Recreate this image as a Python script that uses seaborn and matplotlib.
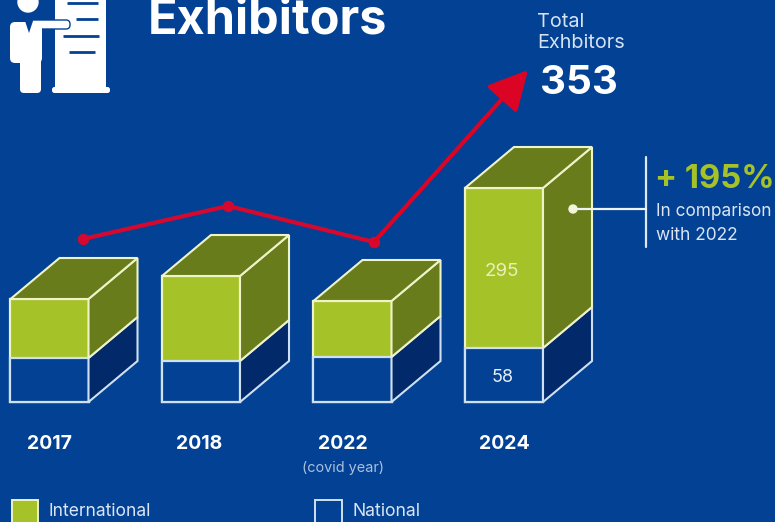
import matplotlib
matplotlib.use('Agg')
import matplotlib.pyplot as plt
import seaborn as sns
import pandas as pd
from matplotlib.patches import Circle, FancyBboxPatch, Polygon, Rectangle

# values
years = ['2017', '2018', '2022', '2024']
national = [44, 41, 45, 54]
international = [59, 85, 56, 160]
total_line = [163, 196, 160]
total_end = 332
shown_international = ['', '', '', '295']
shown_national = ['', '', '', '58']

bg = '#024193'
lime = '#a6c229'
olive = '#697c1c'
navy = '#02296a'
edge_top = '#eef3c8'
edge_low = '#cfe0f2'
red = '#d5092f'

W, H = 775, 522
sns.set_theme(style='white')
plt.rcParams['font.family'] = ['Inter', 'DejaVu Sans']

fig = plt.figure(figsize=(W / 100, H / 100), dpi=100, facecolor=bg)
ax = fig.add_axes([0, 0, 1, 1])
ax.set_facecolor(bg)

df = pd.DataFrame({'year': years, 'national': national, 'international': international})
df['total'] = df['national'] + df['international']

# stacked front faces
sns.barplot(data=df, x='year', y='total', color=lime, width=0.515, saturation=1,
            edgecolor=edge_top, linewidth=1.6, ax=ax)
sns.barplot(data=df, x='year', y='national', color=bg, width=0.515, saturation=1,
            edgecolor=edge_low, linewidth=1.6, ax=ax)

# one category = 151.5 px, baseline at pixel row 402
ax.set_xlim(-49.5 / 151.5, (W - 49.5) / 151.5)
ax.set_ylim(402 - H, 402)
ax.axis('off')

ux = 1 / 151.5
half = 0.2575
depth_x, depth_y = 49 * ux, 41

# side and top faces of each block
for i, (n, t) in enumerate(zip(national, df['total'])):
    r = i + half
    l = i - half
    ax.add_patch(Polygon([(r, 0), (r + depth_x, depth_y), (r + depth_x, n + depth_y), (r, n)],
                         fc=navy, ec=edge_low, lw=1.5))
    ax.add_patch(Polygon([(r, n), (r + depth_x, n + depth_y), (r + depth_x, t + depth_y), (r, t)],
                         fc=olive, ec=edge_top, lw=1.5))
    ax.add_patch(Polygon([(l, t), (l + depth_x, t + depth_y), (r + depth_x, t + depth_y), (r, t)],
                         fc=olive, ec=edge_top, lw=1.5))

# red total line, points sit above the top faces
line_offset = [33.5 * ux, 27 * ux, 21.5 * ux]
line_df = pd.DataFrame({'x': [i + o for i, o in enumerate(line_offset)], 'y': total_line})
sns.lineplot(data=line_df, x='x', y='y', color=red, lw=3, marker='o', ms=7.5,
             mec=red, ax=ax, legend=False)
ax.set_xlabel('')
ax.set_ylabel('')
ax.annotate('', xy=(3 + 24 * ux, total_end), xytext=(line_df['x'][2], total_line[2]),
            arrowprops=dict(arrowstyle='-|>,head_length=1.2,head_width=0.62', color='#dc0425', lw=3,
                            mutation_scale=20, shrinkA=0, shrinkB=0))

# second layer in pixels for the annotations
ov = fig.add_axes([0, 0, 1, 1])
ov.set_xlim(0, W)
ov.set_ylim(H, 0)
ov.axis('off')
ov.patch.set_alpha(0)

# the title runs into the top edge in the reference as well
ov.text(148, 33, 'Exhibitors', color='white', fontsize=35, fontweight='bold', va='baseline', ha='left')
ov.text(537.5, 22, 'Total', color='#d6e3f3', fontsize=14.3, va='center')
ov.text(537.5, 43, 'Exhbitors', color='#d6e3f3', fontsize=14.3, va='center')
ov.text(540, 83, '353', color='white', fontsize=29, fontweight='bold', va='center')

ov.text(502, 272, shown_international[3], color='#eaf1b8', fontsize=13.5, ha='center', va='center')
ov.text(503, 378, shown_national[3], color='#e8eef6', fontsize=13, ha='center', va='center')

label_x = [50, 199, 343, 504]
for x, y in zip(label_x, years):
    ov.text(x, 444, y, color='white', fontsize=14, fontweight='bold', ha='center', va='center')
ov.text(343, 468, '(covid year)', color='#a9c0de', fontsize=10.4, ha='center', va='center')

# callout
ov.plot([646, 646], [157, 247], color='#dfe8f2', lw=1.6)
ov.plot([573, 646], [209, 209], color='#eef3f6', lw=1.6)
ov.add_patch(Circle((573, 209), 4, color='#f2f5dc', zorder=4))
ov.text(655, 179, '+ 195%', color=lime, fontsize=23.6, fontweight='bold', va='center')
ov.text(656, 211, 'In comparison', color='#dce6f2', fontsize=12.4, va='center')
ov.text(656, 236, 'with 2022', color='#dce6f2', fontsize=12.5, va='center')

# legend
ov.add_patch(Rectangle((12, 500), 26, 30, fc=lime, ec=edge_top, lw=1.4))
ov.text(49, 512, 'International', color='#dce6f2', fontsize=12.6, va='center')
ov.add_patch(Rectangle((315, 500), 27, 30, fc=bg, ec=edge_low, lw=1.4))
ov.text(353, 512, 'National', color='#dce6f2', fontsize=12.7, va='center')

# icon: presenter with a board
ov.add_patch(Rectangle((55, 0), 51, 90, fc='white', ec='none'))
ov.add_patch(FancyBboxPatch((52, 87), 58, 6, boxstyle='round,pad=0,rounding_size=2.5', fc='white', ec='none'))
for x0, x1, y in [(67, 98, 3), (76, 98, 19), (63, 99, 36), (69, 95, 52)]:
    ov.plot([x0, x1], [y, y], color=bg, lw=2, solid_capstyle='butt')
ov.add_patch(Circle((28, 2), 10, color='white'))
ov.add_patch(FancyBboxPatch((30, 20), 40, 9, boxstyle='round,pad=0,rounding_size=4', fc='white', ec=bg, lw=1))
ov.add_patch(FancyBboxPatch((10, 22), 32, 41, boxstyle='round,pad=0,rounding_size=5', fc='white', ec='none', zorder=3))
ov.add_patch(FancyBboxPatch((20, 50), 21, 43, boxstyle='round,pad=0,rounding_size=4', fc='white', ec='none', zorder=3))
ov.add_patch(Rectangle((38, 21), 14, 7, fc='white', ec='none', zorder=3))
ov.add_patch(Polygon([(25, 21), (33, 21), (29, 33)], fc=bg, ec='none', zorder=4))

fig.savefig('out.png', dpi=100, facecolor=bg)
